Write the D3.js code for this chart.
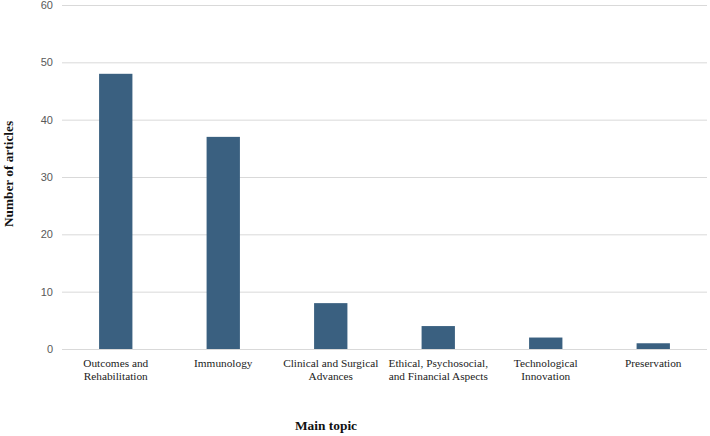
<!DOCTYPE html>
<html>
<head>
<meta charset="utf-8">
<script src="https://cdn.jsdelivr.net/npm/d3@7"></script>
<style>
 body { margin: 0; background: #fff; }
 .serif { font-family: 'Liberation Serif', 'Times New Roman', serif; }
 .sans { font-family: 'Liberation Sans', Arial, sans-serif; }
</style>
</head>
<body>
<svg width="710" height="436"></svg>
<script>
// Data.

var topics = [
 ['Outcomes and', 'Rehabilitation'],
 ['Immunology'],
 ['Clinical and Surgical', 'Advances'],
 ['Ethical, Psychosocial,', 'and Financial Aspects'],
 ['Technological', 'Innovation'],
 ['Preservation']
];
var counts = [48, 37, 8, 4, 2, 1];
var yTicks = [0, 10, 20, 30, 40, 50, 60];

var svg = d3.select('svg');
var margin = {top: 5, right: 3, bottom: 87, left: 62};
var width = svg.attr('width') - margin.left - margin.right;
var height = svg.attr('height') - margin.top - margin.bottom;
var graphic = svg.append('g').attr('transform', 'translate(' + margin.left + ',' + margin.top + ')');

var names = topics.map(function(t) { return t.join(' '); });

var x = d3.scaleBand()
 .range([0, width])
 .domain(names)
 .paddingInner(0.69)
 .paddingOuter(0.345);

var y = d3.scaleLinear()
 .range([height, 0])
 .domain([0, 60]);

// Gridlines and tick labels.

graphic.append('g')
 .call(d3.axisLeft(y)
 .tickValues(yTicks)
 .tickSize(-width)
 .tickPadding(9))
 .call(function(g) {
  g.attr('font-family', null).attr('font-size', null);
  g.select('.domain').remove();
  g.selectAll('.tick line').attr('stroke', '#d9d9d9').attr('stroke-width', 1);
  g.selectAll('.tick text')
   .attr('class', 'sans')
   .attr('fill', '#595959')
   .style('font-size', '11px');
 });

// Bars.

graphic.append('g')
 .selectAll('rect')
 .data(counts)
 .enter().append('rect')
 .attr('x', function(d, i) { return x(names[i]); })
 .attr('y', function(d) { return y(d); })
 .attr('width', x.bandwidth())
 .attr('height', function(d) { return height - y(d); })
 .attr('fill', '#3a6080');

// Category labels.

var cat = graphic.append('g')
 .selectAll('text')
 .data(topics)
 .enter().append('text')
 .attr('class', 'serif')
 .attr('x', function(d, i) { return x(names[i]) + x.bandwidth() / 2; })
 .attr('y', height + 18)
 .attr('text-anchor', 'middle')
 .style('font-size', '11.3px')
 .attr('fill', '#222');

cat.selectAll('tspan')
 .data(function(d) { return d; })
 .enter().append('tspan')
 .attr('x', function() { return d3.select(this.parentNode).attr('x'); })
 .attr('dy', function(d, i) { return i === 0 ? 0 : 12.5; })
 .text(function(d) { return d; });

// Axis titles.

svg.append('text')
 .attr('class', 'serif')
 .attr('transform', 'translate(13,174) rotate(-90)')
 .attr('text-anchor', 'middle')
 .style('font-weight', 'bold')
 .style('font-size', '13.3px')
 .attr('fill', '#111')
 .text('Number of articles');

svg.append('text')
 .attr('class', 'serif')
 .attr('x', 326)
 .attr('y', 430)
 .attr('text-anchor', 'middle')
 .style('font-weight', 'bold')
 .style('font-size', '13.4px')
 .attr('fill', '#111')
 .text('Main topic');
</script>
</body>
</html>
